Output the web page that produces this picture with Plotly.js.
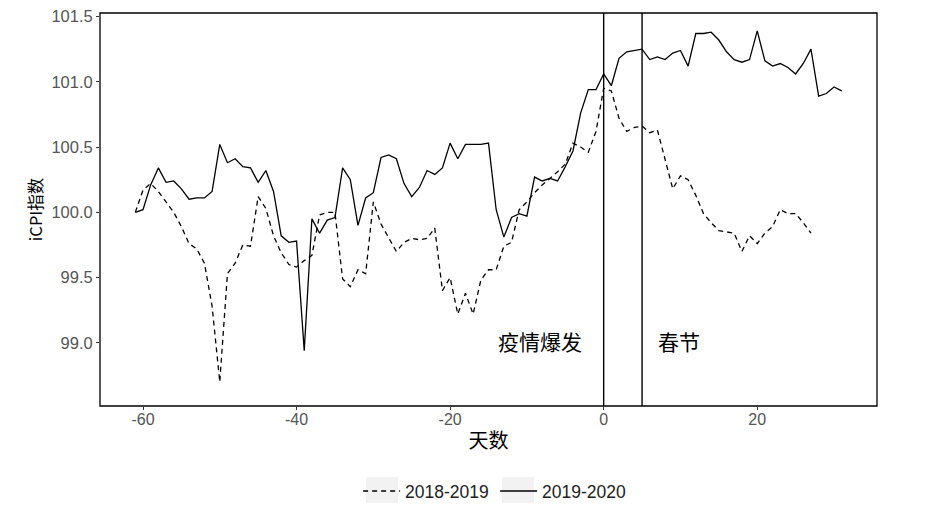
<!DOCTYPE html>
<html>
<head>
<meta charset="utf-8">
<script src="https://cdn.plot.ly/plotly-3.0.1.min.js"></script>
<style>html,body{margin:0;padding:0;background:#fff;}#chart{width:936px;height:510px;}</style>
</head>
<body>
<div id="chart"></div>
<script>
// Days relative to the outbreak
const days2020 = [];
for (let d = -61; d <= 31; d++) days2020.push(d);
const days2019 = [];
for (let d = -61; d <= 27; d++) days2019.push(d);

// 2019-2020 series (solid)
const icpi2020 = [
  100.00, 100.02, 100.21, 100.34, 100.23, 100.24, 100.18, 100.10, 100.11, 100.11,
  100.16, 100.52, 100.38, 100.41, 100.35, 100.34, 100.23, 100.32, 100.16, 99.82,
  99.77, 99.78, 98.94, 99.95, 99.84, 99.94, 99.96, 100.34, 100.25, 99.90,
  100.11, 100.15, 100.42, 100.44, 100.41, 100.22, 100.12, 100.19, 100.32, 100.29,
  100.34, 100.53, 100.41, 100.52, 100.52, 100.52, 100.53, 100.02, 99.81, 99.96,
  99.99, 99.97, 100.27, 100.24, 100.26, 100.24, 100.35, 100.47, 100.76, 100.94,
  100.94, 101.06, 100.97, 101.18, 101.23, 101.24, 101.25, 101.17, 101.19, 101.17,
  101.22, 101.24, 101.12, 101.37, 101.37, 101.38, 101.32, 101.23, 101.17, 101.15,
  101.17, 101.39, 101.16, 101.12, 101.14, 101.11, 101.06, 101.14, 101.25, 100.89,
  100.91, 100.96, 100.93
];

// 2018-2019 series (dashed)
const icpi2019 = [
  100.00, 100.17, 100.22, 100.16, 100.08, 100.00, 99.89, 99.76, 99.72, 99.61,
  99.28, 98.70, 99.53, 99.61, 99.75, 99.74, 100.12, 100.03, 99.82, 99.69,
  99.60, 99.58, 99.63, 99.67, 99.98, 100.00, 100.00, 99.49, 99.43, 99.56,
  99.53, 100.08, 99.91, 99.81, 99.70, 99.77, 99.80, 99.79, 99.80, 99.88,
  99.40, 99.50, 99.22, 99.38, 99.22, 99.48, 99.56, 99.56, 99.74, 99.77,
  100.02, 100.08, 100.15, 100.21, 100.26, 100.31, 100.37, 100.53, 100.50, 100.46,
  100.62, 100.95, 100.93, 100.72, 100.62, 100.65, 100.66, 100.61, 100.63, 100.40,
  100.18, 100.28, 100.25, 100.13, 99.99, 99.92, 99.86, 99.85, 99.84, 99.70,
  99.82, 99.76, 99.84, 99.89, 100.02, 99.99, 99.99, 99.92, 99.84
];

const seriesNames = ['2018-2019', '2019-2020'];
const eventDays = [0, 5];
const eventLabels = ['疫情爆发', '春节'];
const eventLabelX = [-8.3, 9.8];
const eventLabelY = 99.0;
const xTicks = [-60, -40, -20, 0, 20];
const yTicks = [99.0, 99.5, 100.0, 100.5, 101.0, 101.5];

const latin = 'Liberation Sans, Arial, Noto Sans CJK SC, sans-serif';
const cjk = 'Noto Sans CJK SC, Liberation Sans, sans-serif';

const traces = [
  {x: days2019, y: icpi2019, name: seriesNames[0], type: 'scatter', mode: 'lines',
   line: {color: '#000', width: 1.3, dash: '5px,4px'}},
  {x: days2020, y: icpi2020, name: seriesNames[1], type: 'scatter', mode: 'lines',
   line: {color: '#000', width: 1.3}}
];

const shapes = eventDays.map(d => ({
  type: 'line', xref: 'x', yref: 'paper', x0: d, x1: d, y0: 0, y1: 1,
  line: {color: '#000', width: 1.4}
}));
shapes.push({type: 'rect', xref: 'paper', yref: 'paper', x0: 0, x1: 1, y0: 0, y1: 1,
  line: {color: '#000', width: 1.3}, fillcolor: 'rgba(0,0,0,0)'});
// legend key backgrounds (ggplot style)
[[0.3423, 0.3835], [0.5174, 0.5586]].forEach(([a, b]) => shapes.push({
  type: 'rect', xref: 'paper', yref: 'paper', x0: a, x1: b, y0: -0.2468, y1: -0.1807,
  line: {width: 0}, fillcolor: '#f2f2f2', layer: 'below'
}));

const annotations = eventLabels.map((t, i) => ({
  x: eventLabelX[i], y: eventLabelY, xref: 'x', yref: 'y', text: t, yshift: 2,
  showarrow: false, xanchor: 'center', yanchor: 'middle',
  font: {family: cjk, size: 21, color: '#000'}
}));

const layout = {
  width: 936, height: 510,
  margin: {l: 100, r: 59, t: 13, b: 104, autoexpand: false},
  paper_bgcolor: '#fff', plot_bgcolor: '#fff',
  showlegend: true,
  legend: {orientation: 'h', xref: 'container', yref: 'container',
    x: 0.3826, xanchor: 'left', y: 0.037, yanchor: 'middle',
    bgcolor: 'rgba(0,0,0,0)', entrywidth: 85,
    font: {family: latin, size: 17.5, color: '#222'}, itemwidth: 37},
  xaxis: {
    range: [-65.6, 35.6], tickvals: xTicks, ticktext: xTicks.map(String),
    ticks: 'outside', ticklen: 3, tickcolor: '#333', tickwidth: 1, ticklabelstandoff: -4,
    showgrid: false, zeroline: false, showline: false, automargin: false,
    tickfont: {family: latin, size: 16, color: '#555'},
    title: {text: '天数', font: {family: cjk, size: 20, color: '#000'}, standoff: 6}
  },
  yaxis: {
    range: [98.516, 101.527], tickvals: yTicks, ticktext: yTicks.map(v => v.toFixed(1)),
    ticks: 'outside', ticklen: 3, tickcolor: '#333', tickwidth: 1,
    showgrid: false, zeroline: false, showline: false, automargin: false,
    tickfont: {family: latin, size: 16.5, color: '#555'},
    title: {text: 'iCPI指数', font: {family: cjk, size: 16.5, color: '#000'}, standoff: 4}
  },
  shapes: shapes,
  annotations: annotations
};

Plotly.newPlot('chart', traces, layout, {displayModeBar: false, staticPlot: true});
</script>
</body>
</html>
